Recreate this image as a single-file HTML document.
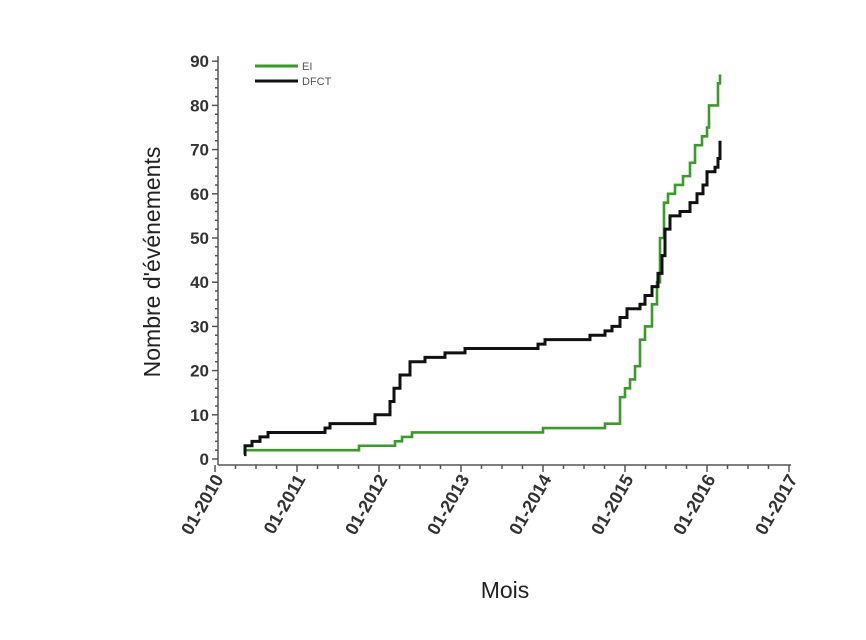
<!DOCTYPE html>
<html><head><meta charset="utf-8"><style>
html,body{margin:0;padding:0;background:#fff;}
svg{display:block;font-family:"Liberation Sans",sans-serif;}
</style></head><body>
<svg id="s" width="866" height="640" viewBox="0 0 866 640" xmlns="http://www.w3.org/2000/svg">
<g id="ax" stroke="#555" stroke-width="1.5" fill="none"></g>
<g id="lab" fill="#333" font-size="17" font-weight="bold"></g>
<text x="160" y="262" font-size="23" fill="#222" text-anchor="middle" transform="rotate(-90 160 262)">Nombre d'événements</text>
<text x="505" y="598" font-size="23" fill="#222" text-anchor="middle">Mois</text>
<line x1="255" y1="66" x2="298" y2="66" stroke="#3a9a2a" stroke-width="3"/>
<line x1="255" y1="81" x2="298" y2="81" stroke="#111" stroke-width="3"/>
<text x="302" y="70" font-size="11" fill="#555">EI</text>
<text x="302" y="85" font-size="11" fill="#555">DFCT</text>
<path id="g" fill="none" stroke="#3a9a2a" stroke-width="2.6"/>
<path id="b" fill="none" stroke="#111" stroke-width="3"/>
</svg>
<script>
var X0=218,YB=459,S=4.42,ns="http://www.w3.org/2000/svg";
var ax=document.getElementById('ax'),lab=document.getElementById('lab');
function el(p,tag,a,t){var e=document.createElementNS(ns,tag);for(var k in a)e.setAttribute(k,a[k]);if(t!=null)e.textContent=t;p.appendChild(e);}
el(ax,'line',{x1:X0,y1:56,x2:X0,y2:465});
el(ax,'line',{x1:X0,y1:465,x2:791,y2:465});
for(var v=0;v<=90;v+=2){var y=YB-v*S;el(ax,'line',{x1:X0-(v%10==0?6:3),y1:y,x2:X0,y2:y});}
for(var v=0;v<=90;v+=10){el(lab,'text',{x:X0-9,y:YB-v*S+6,'text-anchor':'end'},String(v));}
var xs=[215,297,379,461,543,625,707,789];
for(var i=0;i<7;i++){for(var q=0;q<4;q++){var x=xs[i]+q*20.5;el(ax,'line',{x1:x,y1:465,x2:x,y2:465+(q==0?7:4)});}}
el(ax,'line',{x1:789,y1:465,x2:789,y2:472});
for(var i=0;i<8;i++){var x=xs[i]+9,y=479;el(lab,'text',{x:x,y:y,'text-anchor':'end',transform:'rotate(-60 '+x+' '+y+')','font-size':18},'01-'+(2010+i));}
function path(pts){var d='M'+pts[0][0]+' '+(YB-pts[0][1]*S);for(var i=1;i<pts.length;i++){d+=' H'+pts[i][0]+' V'+(YB-pts[i][1]*S);}return d;}
var G=[[244,2],[359,3],[395,4],[402,5],[412,6],[543,7],[605,8],[620,14],[625,16],[630,18],[635,21],[640,27],[645,30],[652,35],[657,40],[660,50],[664,58],[668,60],[675,62],[683,64],[690,67],[695,71],[702,73],[707,75],[709,80],[716,80],[718,85],[720,87]];
var B=[[244,1],[245,3],[252,4],[260,5],[268,6],[325,7],[330,8],[375,10],[390,13],[394,16],[400,19],[410,22],[425,23],[445,24],[465,25],[538,26],[545,27],[590,28],[605,29],[612,30],[620,32],[627,34],[640,35],[645,37],[652,39],[658,42],[662,46],[665,52],[670,55],[680,56],[690,58],[697,60],[703,62],[707,65],[715,66],[718,68],[720,72]];
document.getElementById('g').setAttribute('d',path(G));
document.getElementById('b').setAttribute('d',path(B));
</script>
</body></html>
